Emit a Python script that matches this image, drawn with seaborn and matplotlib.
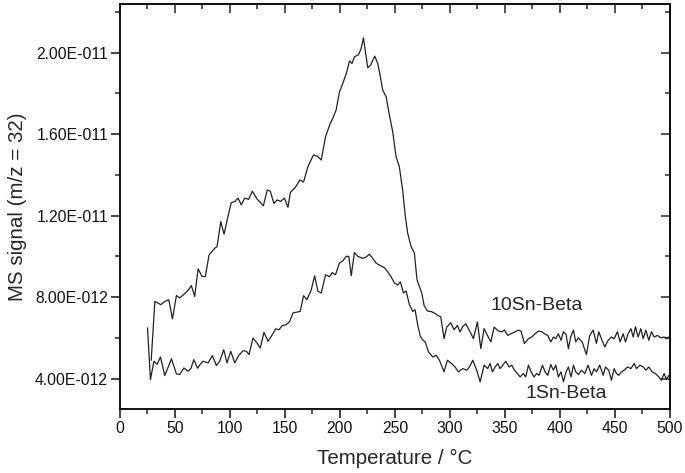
import numpy as np
import pandas as pd
import matplotlib
matplotlib.use("Agg")
import matplotlib.pyplot as plt
import seaborn as sns

# ---- data (values in 1e-12 units) ----
t_10sn = [28.5, 31.8, 37.2, 40.8, 44.5, 47.8, 51.4, 54.4, 57.5, 60.5, 63, 65, 68, 71.1, 74.7, 77.7,
          81.1, 84, 86.2, 88.3, 91.7, 94.7, 98, 101.3, 104.3, 107.4, 110.4, 113.4, 117, 120.4, 122.7,
          124.9, 127.7, 130.4, 134, 136.7, 140, 143, 146, 149.6, 152.8, 155, 159.4, 163.6, 167, 170.9,
          176, 180, 183, 187, 191.2, 193.6, 196.6, 199.6, 202.7, 206.3, 208.7, 211, 213.2, 217, 219.3,
          221.4, 225.3, 228, 231.7, 234.4, 236.8, 238.9, 242, 245, 248, 251, 254, 257, 259.5, 261.6,
          264.7, 267.7, 270.1, 274.4, 276.5, 279.6, 283.5, 286.5, 288.6, 291.7, 294.7, 297.1, 300.8,
          303.8, 306.8, 309.2, 311.7, 314.4, 318.4, 321.4, 325, 328.1, 331.1, 334.1, 337.2, 340.2,
          344.1, 347.2, 349.6, 352.6, 355.6, 359.3, 362.3, 364.7, 367.7, 371.4, 374.4, 377.4, 380.5,
          383.5, 385.9, 388.9, 391.7, 394.1, 396.2, 398.6, 401, 403.2, 405.6, 407.7, 409.8, 412.3,
          414.4, 416.8, 420.2, 424.1, 427.1, 430.2, 433.2, 435.3, 437.7, 440.8, 443.8, 446.8, 449.3,
          452.3, 454.7, 457.5, 459.6, 462, 464.5, 466.6, 468.7, 471.1, 473.5, 475.7, 478.1, 480.8,
          483.2, 485.7, 488.7, 491.7, 494.7, 496.8, 499]
v_10sn = [4.9, 7.79, 7.63, 7.79, 7.87, 6.93, 8.08, 7.96, 8.1, 8.25, 8.4, 8.57, 8.03, 9.39, 9.01, 9.01,
          10.08, 10.25, 10.4, 10.47, 11.71, 11.09, 11.9, 12.64, 12.69, 12.86, 12.53, 12.86, 12.8, 13.2, 13.0,
          12.8, 12.65, 12.48, 13.26, 13.2, 12.6, 12.77, 12.7, 12.86, 12.41, 13.14, 13.38, 13.75, 13.65, 14.41,
          14.98, 14.9, 14.73, 15.88, 16.53, 16.78, 17.19, 18.08, 18.5, 19.06, 19.59, 19.47, 19.8, 19.9, 20.21,
          20.73, 19.26, 19.4, 19.83, 19.47, 18.82, 18.17, 17.84, 16.94, 16.12, 14.9, 14.41, 13.26, 11.96, 11.14,
          10.49, 10.16, 8.85, 8.2, 7.6, 7.32, 7.28, 7.2, 7.11, 7.03, 5.96, 6.53, 6.74,
          6.4, 6.61, 6.29, 6.56, 6.69, 6.29, 5.96, 6.78, 5.47, 6.45, 6.12, 5.8, 6.53,
          6.33, 6.3, 6.38, 6.12, 6.2, 6.3, 6.38, 6.33, 5.72, 5.96, 6.04, 6.2, 6.33,
          6.3, 6.2, 6.12, 5.8, 6.04, 5.96, 6.2, 5.88, 6.3, 6.17, 5.47, 6.04, 6.38,
          5.8, 6.0, 5.8, 5.18, 6.12, 6.38, 5.72, 6.3, 5.96, 5.55, 5.88, 6.04, 5.96,
          6.3, 5.8, 6.2, 5.8, 6.2, 6.45, 6.04, 6.54, 6.04, 6.45, 5.96, 6.38, 5.88,
          6.3, 6.04, 6.12, 6.0, 6.04, 5.96, 6.04]

t_1sn = [25.1, 27.8, 30.9, 33.9, 36.9, 40.8, 43.8, 46.9, 51.4, 54.4, 58.1, 62, 64.6, 67.2, 70.6, 73,
         75.6, 80.1, 84.1, 87.7, 90.7, 94.4, 97.4, 100.8, 104.4, 108, 112, 115, 117.4, 121, 124.6, 127.6,
         131, 134.6, 137.6, 141.6, 144.6, 147.6, 151.2, 154.3, 157.3, 161.2, 163.9, 167, 170, 174, 177,
         180, 183, 187, 190.6, 193, 196, 199.6, 202.7, 205.7, 208.1, 210.3, 213.2, 216.3, 220.8, 223.8,
         226.8, 229.9, 232.9, 235, 237.4, 240.4, 243.5, 246.5, 249.5, 252.5, 255, 257.8, 260.2, 263.2,
         266.2, 268.3, 270.7, 273.1, 275.3, 277.5, 280.5, 284.4, 287.5, 290.5, 294.7, 297.7, 301.6,
         304.7, 307.7, 311.7, 315.3, 317.7, 320.8, 324.4, 327.5, 331.1, 334.4, 336.5, 338.7, 341.1,
         343.5, 345.6, 348, 350.8, 353.8, 356.2, 358.6, 361.4, 363.8, 366.8, 368.9, 371.4, 373.8,
         376.5, 378.9, 381, 384.1, 386.5, 388.9, 391.7, 394.1, 396.2, 398.6, 401, 403.2, 405.6, 407.7,
         410.1, 412.3, 414.4, 416.8, 419.6, 422.6, 425.6, 428.7, 431.1, 433.2, 436.2, 439.3, 441.4,
         444.4, 446.8, 449.3, 451.4, 453.5, 456, 458.4, 461.4, 464.5, 467.5, 469.6, 472.7, 475.7,
         478.1, 480.8, 483.8, 486.8, 489.9, 492.3, 494.7, 496.8, 499]
v_1sn = [6.49, 3.95, 4.85, 4.7, 5.06, 4.15, 4.55, 4.97, 4.23, 4.2, 4.52, 4.36, 4.5, 4.93, 4.51, 4.7,
         4.85, 4.77, 5.13, 4.64, 4.85, 5.42, 4.77, 5.34, 4.77, 5.13, 5.37, 5.34, 5.18, 5.99, 5.75, 5.5,
         6.27, 5.83, 6.07, 6.44, 6.4, 6.6, 6.65, 6.8, 7.22, 7.27, 7.3, 8.07, 7.87, 8.36, 9.05,
         8.29, 8.2, 9.1, 9.0, 9.2, 9.1, 9.67, 9.78, 10.0, 10.0, 9.05, 10.19, 10.0, 9.9, 9.97,
         10.1, 9.9, 9.67, 9.6, 9.53, 9.44, 9.24, 9.0, 8.7, 8.59, 8.75, 8.2, 8.3, 7.63,
         7.3, 7.38, 6.65, 6.07, 5.9, 5.8, 5.31, 5.06, 5.14, 4.9, 4.33, 4.9, 4.74,
         4.57, 4.33, 4.49, 4.41, 4.57, 4.9, 4.41, 3.84, 4.66, 4.49, 4.74, 4.33, 4.57,
         4.74, 4.49, 4.66, 4.85, 4.57, 4.66, 4.41, 4.25, 4.08, 4.25, 4.08, 4.66, 4.33,
         4.08, 4.25, 4.16, 4.66, 4.33, 4.16, 4.69, 4.41, 4.66, 4.08, 4.33, 3.84, 4.33, 4.57,
         4.08, 4.66, 4.33, 4.2, 4.41, 4.25, 4.66, 4.16, 4.49, 4.33, 4.66, 4.16, 4.57,
         4.41, 3.92, 4.49, 4.25, 4.16, 4.33, 4.41, 4.57, 4.49, 4.74, 4.49, 4.66, 4.57,
         4.41, 4.57, 4.33, 4.25, 4.08, 3.92, 4.25, 3.97, 4.16]

series_names = ["10Sn-Beta", "1Sn-Beta"]
x_ticks = [0, 50, 100, 150, 200, 250, 300, 350, 400, 450, 500]
y_ticks = [4e-12, 8e-12, 1.2e-11, 1.6e-11, 2e-11]
y_tick_labels = ["4.00E-012", "8.00E-012", "1.20E-011", "1.60E-011", "2.00E-011"]
y_minor = [6e-12, 1e-11, 1.4e-11, 1.8e-11, 2.2e-11]
x_minor = list(range(25, 500, 50))

df = pd.concat([
    pd.DataFrame({"T": t_10sn, "v": np.array(v_10sn) * 1e-12, "s": series_names[0]}),
    pd.DataFrame({"T": t_1sn, "v": np.array(v_1sn) * 1e-12, "s": series_names[1]}),
])

sns.set_style("ticks")
plt.rcParams["font.family"] = ["Liberation Sans", "DejaVu Sans"]

fig = plt.figure(figsize=(6.85, 4.73), dpi=100)
ax = fig.add_axes([0.175, 0.135, 0.803, 0.857])

sns.lineplot(data=df, x="T", y="v", units="s", estimator=None, sort=False,
             color="#222222", linewidth=0.9, ax=ax)

ax.set_xlim(0, 500)
ax.set_ylim(2.5e-12, 2.24e-11)
ax.set_xticks(x_ticks)
ax.set_xticklabels([str(t) for t in x_ticks])
ax.set_xticks(x_minor, minor=True)
ax.set_yticks(y_ticks)
ax.set_yticklabels(y_tick_labels)
ax.set_yticks(y_minor, minor=True)

MAJ, MIN, TW = 6.5, 3.5, 1.1
ax.tick_params(which="major", direction="out", length=MAJ, width=TW, labelsize=11.3,
               colors="#111111", pad=2)
ax.tick_params(which="minor", direction="out", length=MIN, width=TW)

for sp in ax.spines.values():
    sp.set_linewidth(1.4)
    sp.set_color("#111111")

# mirrored inward ticks on top and right
top = ax.secondary_xaxis("top")
top.set_xticks(x_ticks)
top.set_xticks(x_minor, minor=True)
top.tick_params(which="major", direction="in", length=MAJ, width=TW, labeltop=False)
top.tick_params(which="minor", direction="in", length=MIN, width=TW)
top.spines["top"].set_linewidth(1.4)
right = ax.secondary_yaxis("right")
right.set_yticks(y_ticks)
right.set_yticks(y_minor, minor=True)
right.tick_params(which="major", direction="in", length=MAJ, width=TW, labelright=False)
right.tick_params(which="minor", direction="in", length=MIN, width=TW)
right.spines["right"].set_linewidth(1.4)

ax.set_xlabel("Temperature / °C", fontsize=14.8, labelpad=9)
ax.set_ylabel("MS signal (m/z = 32)", fontsize=14.8, labelpad=6)

ax.text(336.5, 7.6e-12, series_names[0], fontsize=14, va="center", ha="left")
ax.text(369, 3.28e-12, series_names[1], fontsize=14, va="center", ha="left")

fig.savefig("out.png", dpi=100)
